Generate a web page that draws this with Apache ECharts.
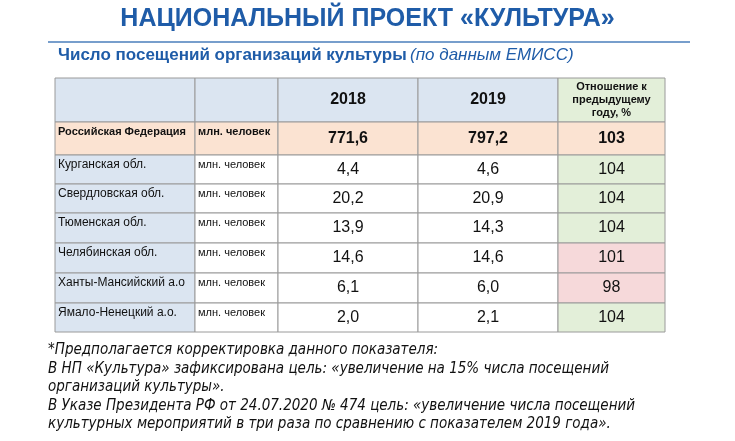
<!DOCTYPE html>
<html><head><meta charset="utf-8">
<script src="https://cdn.jsdelivr.net/npm/echarts@6/dist/echarts.min.js"></script>
<style>html,body{margin:0;padding:0;background:#fff}#c{width:735px;height:441px}</style>
</head><body><div id="c"></div>
<script>
const regions = ['Российская Федерация','Курганская обл.','Свердловская обл.','Тюменская обл.','Челябинская обл.','Ханты-Мансийский а.о','Ямало-Ненецкий а.о.'];
const units = ['млн. человек','млн. человек','млн. человек','млн. человек','млн. человек','млн. человек','млн. человек'];
const v2018 = ['771,6','4,4','20,2','13,9','14,6','6,1','2,0'];
const v2019 = ['797,2','4,6','20,9','14,3','14,6','6,0','2,1'];
const ratio = [103,104,104,104,101,98,104];
const headers = ['','','2018','2019','Отношение к\nпредыдущему\nгоду, %'];
const notes = ['*Предполагается корректировка данного показателя:',
 'В НП «Культура» зафиксирована цель: «увеличение на 15% числа посещений',
 'организаций культуры».',
 'В Указе Президента РФ от 24.07.2020 № 474 цель: «увеличение числа посещений',
 'культурных мероприятий в три раза по сравнению с показателем 2019 года».'];

// layout (table units)
const colEdges = [0,140,223,363,503,610];
const rowEdges = [0,44,77,106,135,165,195,225,254];
const BLUE_BG='#dbe5f1', PEACH='#fbe3d2', GREEN='#e3efd9', PINK='#f6d9da';

const cells = [];
function add(c,r,text,fill,opt){cells.push({value:[c,r],text,fill,opt:opt||{}});}
for(let c=0;c<5;c++) add(c,0,headers[c],c===4?GREEN:BLUE_BG,{bold:true,size:c===4?11:16});
for(let i=0;i<regions.length;i++){
  const r=i+1, rf=i===0;
  add(0,r,regions[i],rf?PEACH:BLUE_BG,{left:true,size:rf?11:12,bold:rf});
  add(1,r,units[i],rf?PEACH:'#fff',{left:true,size:11,bold:rf});
  add(2,r,v2018[i],rf?PEACH:'#fff',{size:16,bold:rf});
  add(3,r,v2019[i],rf?PEACH:'#fff',{size:16,bold:rf});
  add(4,r,String(ratio[i]),rf?PEACH:(ratio[i]>=103?GREEN:PINK),{size:16,bold:rf});
}

const chart = echarts.init(document.getElementById('c'));
chart.setOption({
  animation:false,
  grid:{left:55,right:70,top:78,bottom:109},
  xAxis:{type:'value',min:0,max:610,show:false},
  yAxis:{type:'value',min:0,max:254,inverse:true,show:false},
  graphic:[
    {type:'text',left:'center',top:7,style:{text:'НАЦИОНАЛЬНЫЙ ПРОЕКТ «КУЛЬТУРА»',font:'bold 25px "Liberation Sans", Arial',fill:'#1f5ca8'}},
    {type:'line',shape:{x1:48,y1:42,x2:690,y2:42},style:{stroke:'#4a7ebb',lineWidth:1.5}},
    {type:'text',left:58,top:47,style:{rich:{b:{font:'bold 17px "Liberation Sans", Arial',fill:'#1f5ca8'},i:{font:'italic 17px "Liberation Sans", Arial',fill:'#1f5ca8'}},text:'{b|Число посещений организаций культуры} {i|(по данным ЕМИСС)}'}},
    ...notes.map((t,k)=>({type:'text',left:48,top:343+k*18.5,style:{text:t,font:'italic 15px "DejaVu Sans Condensed", "Liberation Sans", Arial',fill:'#111'}}))
  ],
  series:[{type:'custom',data:cells,renderItem:(p,api)=>{
    const d=cells[p.dataIndex], c=d.value[0], r=d.value[1];
    const a=api.coord([colEdges[c],rowEdges[r]]), b=api.coord([colEdges[c+1],rowEdges[r+1]]);
    const o=d.opt;
    return {type:'group',children:[
      {type:'rect',shape:{x:a[0],y:a[1],width:b[0]-a[0],height:b[1]-a[1]},style:{fill:d.fill,stroke:'#9a9a9a',lineWidth:1}},
      {type:'text',style:{text:d.text,x:o.left?a[0]+3:(a[0]+b[0])/2,y:o.left?a[1]+10:(a[1]+b[1])/2,
        align:o.left?'left':'center',verticalAlign:'middle',lineHeight:o.size>12?o.size:13,
        font:(o.bold?'bold ':'')+o.size+'px "Liberation Sans", Arial',fill:'#111'}}
    ]};
  }}]
});
</script></body></html>
